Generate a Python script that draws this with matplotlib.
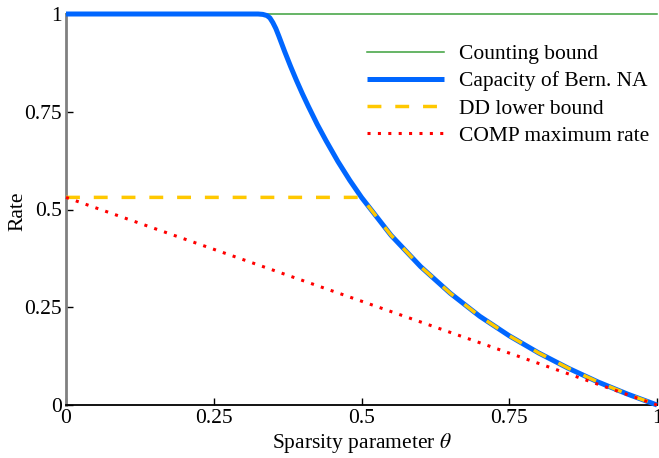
import matplotlib
matplotlib.use("Agg")
import matplotlib.pyplot as plt

plt.rcParams['font.family'] = ['Liberation Serif', 'DejaVu Serif']
plt.rcParams['mathtext.fontset'] = 'stix'

# values
theta_count = [0.0, 1.0]
rate_count = [1.0, 1.0]

theta_cap = [0.0, 0.30, 0.325, 0.333, 0.34, 0.345, 0.35, 0.355, 0.36, 0.37,
             0.38, 0.39, 0.40, 0.41, 0.425, 0.44, 0.46, 0.48, 0.50, 0.55,
             0.60, 0.65, 0.70, 0.75, 0.80, 0.85, 0.90, 0.95, 1.0]
rate_cap = [1.0, 1.0, 1.0, 0.999, 0.996, 0.99, 0.978, 0.963, 0.944, 0.904,
            0.866, 0.830, 0.796, 0.764, 0.718, 0.676, 0.623, 0.575, 0.531, 0.434,
            0.354, 0.286, 0.227, 0.177, 0.133, 0.094, 0.059, 0.028, 0.0]

theta_dd = [0.0, 0.50, 0.55, 0.60, 0.65, 0.70, 0.75, 0.80, 0.85, 0.90, 0.95, 1.0]
rate_dd = [0.531, 0.531, 0.434, 0.354, 0.286, 0.227, 0.177, 0.133, 0.094, 0.059, 0.028, 0.0]

theta_comp = [0.0, 1.0]
rate_comp = [0.531, 0.0]

ticks = [0, 0.25, 0.5, 0.75, 1]
tick_labels = ['0', '0.25', '0.5', '0.75', '1']

fig = plt.figure(figsize=(6.59, 4.58), dpi=100)
ax = fig.add_axes([66 / 659, 53 / 458, 591 / 659, 391 / 458])

ax.plot(theta_count, rate_count, color='#3ca03c', lw=1.1, label='Counting bound', clip_on=False, zorder=2)
ax.plot(theta_cap, rate_cap, color='#0066ff', lw=3.6, label='Capacity of Bern. NA',
        clip_on=False, zorder=3, solid_capstyle='butt', solid_joinstyle='round')
ax.plot(theta_dd, rate_dd, color='#ffc800', lw=2.5, linestyle=(0, (4, 4)),
        label='DD lower bound', clip_on=False, zorder=4)
ax.plot(theta_comp, rate_comp, color='#ff0000', lw=2.2, linestyle=(0, (1, 2.4)),
        label='COMP maximum rate', clip_on=False, zorder=5)

ax.set_xlim(0, 1)
ax.set_ylim(0, 1)
ax.set_xticks(ticks)
ax.set_xticklabels(tick_labels)
ax.set_yticks(ticks)
ax.set_yticklabels(tick_labels)
ax.tick_params(direction='in', length=5, width=1, labelsize=15.5, pad=3)

for side in ['top', 'right']:
    ax.spines[side].set_visible(False)
ax.spines['left'].set_color('#808080')
ax.spines['left'].set_linewidth(2)
ax.spines['bottom'].set_color('black')
ax.spines['bottom'].set_linewidth(1.3)

ax.set_xlabel(r'Sparsity parameter $\theta$', fontsize=15.5, labelpad=2)
ax.set_ylabel('Rate', fontsize=15.5)
ax.yaxis.set_label_coords(-0.066, 0.496)

ax.legend(loc='upper left', bbox_to_anchor=(0.509, 0.923), frameon=False,
          fontsize=15.5, borderpad=0, handlelength=3.6, handletextpad=0.7,
          labelspacing=0.33, borderaxespad=0)

fig.savefig('out.png', dpi=100)
